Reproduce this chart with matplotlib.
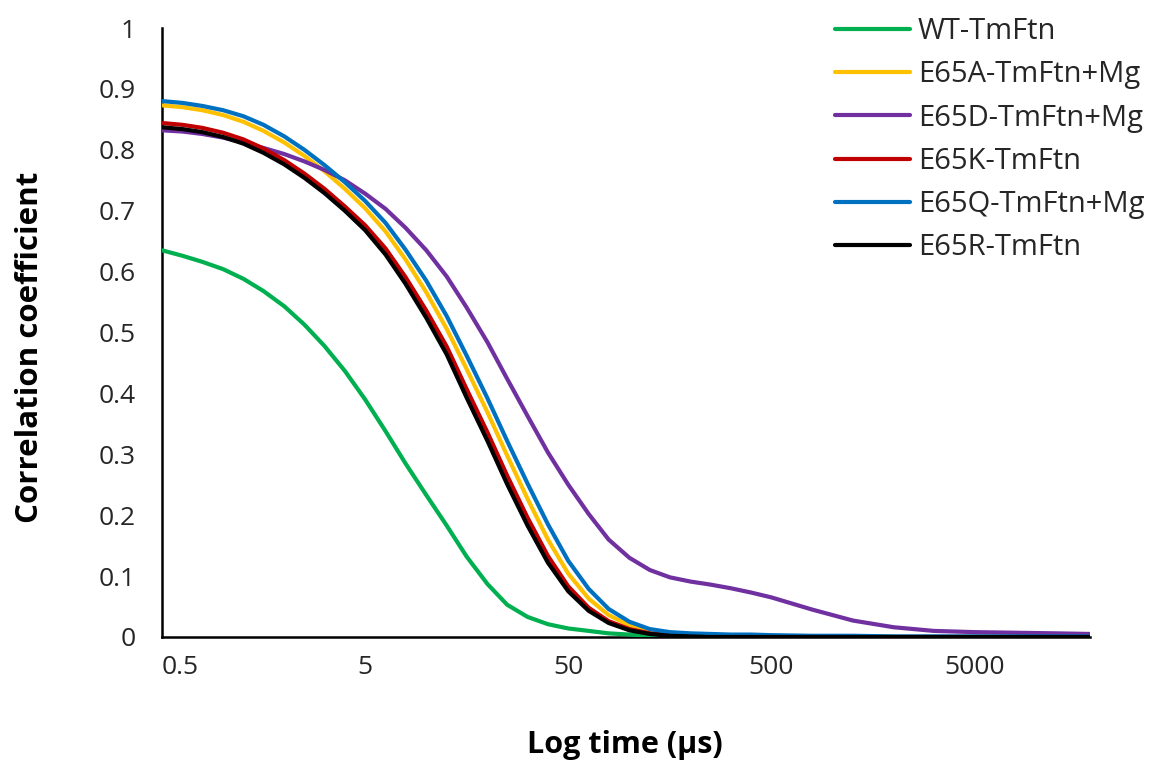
import matplotlib
matplotlib.use("Agg")
import matplotlib.pyplot as plt
from matplotlib.ticker import FixedLocator, FixedFormatter, NullLocator

# ---- data ----
time_us = [0.5, 0.63, 0.79, 1.0, 1.26, 1.58, 2.0, 2.51, 3.15, 3.97,
           5.0, 6.3, 7.9, 10, 12.6, 15.8, 20, 25, 31.5, 39.7,
           50, 63, 79, 100, 126, 158, 200, 251, 316, 397,
           500, 794, 1260, 2000, 3150, 5000, 7940, 12600, 18500]

wt_tmftn = [0.635, 0.626, 0.616, 0.604, 0.588, 0.568, 0.543, 0.513, 0.478, 0.437,
            0.390, 0.338, 0.285, 0.233, 0.183, 0.132, 0.087, 0.053, 0.033, 0.021,
            0.014, 0.010, 0.006, 0.004, 0.002, 0.001, 0.001, 0.001, 0.0, 0.0,
            0.0, 0.0, 0.0, 0.0, 0.0, 0.0, 0.0, 0.0, 0.0]

e65a_mg = [0.873, 0.870, 0.865, 0.857, 0.846, 0.831, 0.812, 0.790, 0.765, 0.736,
           0.704, 0.666, 0.620, 0.566, 0.506, 0.440, 0.369, 0.298, 0.227, 0.160,
           0.104, 0.063, 0.036, 0.019, 0.009, 0.004, 0.002, 0.002, 0.001, 0.001,
           0.001, 0.001, 0.001, 0.0, 0.0, 0.0, 0.0, 0.0, 0.0]

e65d_mg = [0.832, 0.830, 0.826, 0.820, 0.812, 0.803, 0.793, 0.781, 0.767, 0.750,
           0.728, 0.703, 0.672, 0.635, 0.592, 0.541, 0.484, 0.424, 0.363, 0.303,
           0.250, 0.202, 0.160, 0.130, 0.110, 0.098, 0.091, 0.086, 0.080, 0.073,
           0.065, 0.045, 0.027, 0.016, 0.010, 0.008, 0.007, 0.006, 0.005]

e65k = [0.844, 0.841, 0.836, 0.828, 0.817, 0.802, 0.783, 0.761, 0.736, 0.707,
        0.676, 0.638, 0.591, 0.536, 0.477, 0.407, 0.336, 0.265, 0.196, 0.133,
        0.083, 0.048, 0.026, 0.013, 0.006, 0.003, 0.001, 0.001, 0.0, 0.0,
        0.0, 0.0, 0.0, 0.0, 0.0, 0.0, 0.0, 0.0, 0.0]

e65q_mg = [0.880, 0.877, 0.872, 0.865, 0.855, 0.841, 0.822, 0.800, 0.775, 0.747,
           0.716, 0.680, 0.636, 0.585, 0.527, 0.462, 0.392, 0.322, 0.252, 0.185,
           0.125, 0.079, 0.046, 0.025, 0.013, 0.008, 0.006, 0.005, 0.004, 0.004,
           0.003, 0.002, 0.002, 0.001, 0.001, 0.001, 0.001, 0.001, 0.001]

e65r = [0.837, 0.834, 0.829, 0.821, 0.810, 0.795, 0.776, 0.754, 0.729, 0.700,
        0.668, 0.628, 0.580, 0.524, 0.464, 0.393, 0.322, 0.251, 0.183, 0.122,
        0.075, 0.043, 0.023, 0.011, 0.005, 0.002, 0.001, 0.0, 0.0, 0.0,
        0.0, 0.0, 0.0, 0.0, 0.0, 0.0, 0.0, 0.0, 0.0]

series_labels = ["WT-TmFtn", "E65A-TmFtn+Mg", "E65D-TmFtn+Mg",
                 "E65K-TmFtn", "E65Q-TmFtn+Mg", "E65R-TmFtn"]
series_values = [wt_tmftn, e65a_mg, e65d_mg, e65k, e65q_mg, e65r]
series_colors = ["#00B050", "#FFC000", "#7030A0", "#C00000", "#0070C0", "#000000"]

x_ticks = [0.5, 5, 50, 500, 5000]
x_tick_labels = ["0.5", "5", "50", "500", "5000"]
y_ticks = [0, 0.1, 0.2, 0.3, 0.4, 0.5, 0.6, 0.7, 0.8, 0.9, 1.0]
y_tick_labels = ["0", "0.1", "0.2", "0.3", "0.4", "0.5", "0.6", "0.7", "0.8", "0.9", "1"]

# ---- figure ----
plt.rcParams['font.family'] = ['Open Sans', 'DejaVu Sans']
W, H = 1154, 778
fig = plt.figure(figsize=(W / 100, H / 100), dpi=100)
ax = fig.add_axes([162 / W, 1 - 637 / H, (1090 - 162) / W, (637 - 28) / H])

handles = []
for vals, lab, col in zip(series_values, series_labels, series_colors):
    h, = ax.plot(time_us, vals, color=col, lw=3.0, label=lab,
                 solid_capstyle='round', solid_joinstyle='round')
    handles.append(h)

ax.set_xscale('log')
ax.set_xlim(0.5, 18500)
ax.set_ylim(0, 1)

ax.xaxis.set_major_locator(FixedLocator(x_ticks))
ax.xaxis.set_major_formatter(FixedFormatter(x_tick_labels))
ax.xaxis.set_minor_locator(NullLocator())
ax.yaxis.set_major_locator(FixedLocator(y_ticks))
ax.yaxis.set_major_formatter(FixedFormatter(y_tick_labels))

ax.tick_params(axis='both', length=0, labelsize=19, colors='#262626')
ax.tick_params(axis='x', pad=13)
ax.tick_params(axis='y', pad=19)
for lbl in ax.get_xticklabels():
    if lbl.get_text() == "0.5":
        lbl.set_horizontalalignment('left')

for s in ['top', 'right']:
    ax.spines[s].set_visible(False)
for s in ['left', 'bottom']:
    ax.spines[s].set_linewidth(1.8)
    ax.spines[s].set_color('black')
    ax.spines[s].set_zorder(0)

fig.text(625 / W, 1 - 745 / H, "Log time (μs)", ha='center', va='center',
         fontsize=22, fontweight='bold', color='black')
fig.text(30 / W, 1 - 347 / H, "Correlation coefficient", ha='center', va='center',
         rotation=90, fontsize=22.5, fontweight='bold', color='black')

fs = 21
fpx = fs * 100 / 72
leg = fig.legend(handles=handles, loc='upper left',
                 bbox_to_anchor=(835 / W, 1 - 17 / H), frameon=False,
                 fontsize=fs, handlelength=75 / fpx,
                 handletextpad=8 / fpx, labelspacing=0.49,
                 borderaxespad=0, borderpad=0)
for t in leg.get_texts():
    t.set_color('#262626')

fig.savefig("out.png", dpi=100)
